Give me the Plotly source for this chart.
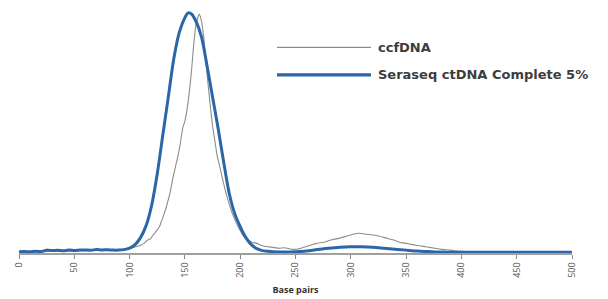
import plotly.graph_objects as go

# Fragment size (bp) and normalised intensity
blue_bp = [0, 5, 10, 15, 20, 25, 30, 35, 40, 45, 50, 55, 60, 65, 70, 75, 80, 85, 90, 95,
           100, 105, 110, 115, 120, 125, 130, 135, 140, 145, 150, 153, 156, 160, 165, 170,
           175, 180, 185, 190, 195, 200, 205, 210, 215, 220, 225, 230, 240, 250, 260, 270,
           280, 290, 300, 310, 320, 330, 340, 350, 360, 370, 380, 400, 420, 450, 480, 500]
blue_val = [0.005, 0.006, 0.005, 0.007, 0.006, 0.012, 0.010, 0.011, 0.009, 0.012, 0.010,
            0.012, 0.013, 0.011, 0.015, 0.013, 0.014, 0.012, 0.012, 0.014,
            0.020, 0.035, 0.065, 0.115, 0.200, 0.330, 0.490, 0.650, 0.810, 0.920, 0.980,
            1.000, 0.995, 0.965, 0.900, 0.780, 0.650, 0.520, 0.380, 0.250, 0.165, 0.110,
            0.065, 0.035, 0.018, 0.010, 0.007, 0.005, 0.004, 0.005, 0.008, 0.015,
            0.020, 0.024, 0.026, 0.026, 0.024, 0.020, 0.016, 0.012, 0.008, 0.006, 0.004,
            0.003, 0.003, 0.003, 0.003, 0.003]

gray_bp = [0, 10, 20, 30, 40, 50, 60, 70, 80, 90, 95, 100, 105, 110, 113, 116, 119, 121,
           124, 127, 129, 131, 134, 137, 139, 142, 144, 146, 148, 150, 152, 154, 156, 158,
           160, 163, 165, 167, 169, 171, 173, 175, 177, 179, 182, 186, 189, 192, 195, 198,
           201, 204, 207, 210, 215, 220, 227, 235, 240, 248,
           255, 262, 269, 276, 283, 290, 296, 302, 308, 314, 320, 326, 332, 338, 344, 350,
           356, 362, 369, 376, 383, 390, 396, 405, 420, 440, 460, 480, 500]
gray_val = [0.004, 0.006, 0.005, 0.008, 0.007, 0.009, 0.010, 0.012, 0.011, 0.014, 0.016,
            0.020, 0.025, 0.032, 0.040, 0.053, 0.060, 0.074, 0.090, 0.110, 0.135, 0.160,
            0.205, 0.260, 0.310, 0.370, 0.410, 0.460, 0.520, 0.550, 0.600, 0.670, 0.760,
            0.870, 0.950, 0.995, 0.965, 0.900, 0.800, 0.700, 0.610, 0.530, 0.470, 0.410,
            0.350, 0.270, 0.220, 0.176, 0.140, 0.110, 0.085, 0.065, 0.055, 0.045,
            0.040, 0.030, 0.025, 0.020, 0.022, 0.015, 0.020, 0.030, 0.040, 0.045, 0.055,
            0.062, 0.070, 0.078, 0.082, 0.078, 0.075, 0.070, 0.062, 0.055, 0.045, 0.040,
            0.035, 0.030, 0.025, 0.020, 0.015, 0.012, 0.008, 0.006, 0.004, 0.003, 0.003,
            0.002, 0.002]

tick_vals = [0, 50, 100, 150, 200, 250, 300, 350, 400, 450, 500]
tick_text = ["0", "50", "100", "150", "200", "250", "300", "350", "400", "450", "500"]
series_names = ["ccfDNA", "Seraseq ctDNA Complete 5%"]

GRAY = "#8c8c8c"
BLUE = "#2a66a8"

fig = go.Figure()
fig.add_trace(go.Scatter(x=gray_bp, y=gray_val, mode="lines", name=series_names[0],
                         line=dict(color=GRAY, width=1.1, shape="spline", smoothing=0.5),
                         showlegend=False))
fig.add_trace(go.Scatter(x=blue_bp, y=blue_val, mode="lines", name=series_names[1],
                         line=dict(color=BLUE, width=3, shape="spline", smoothing=0.8),
                         showlegend=False))

# manual legend (long swatches as in the reference)
legend_rows = [(series_names[0], GRAY, 1.3, 0.843), (series_names[1], BLUE, 3.2, 0.730)]
for name, col, w, yy in legend_rows:
    fig.add_shape(type="line", xref="paper", yref="paper", x0=0.4665, x1=0.6365,
                  y0=yy, y1=yy, line=dict(color=col, width=w))
    fig.add_annotation(text=name, xref="paper", yref="paper", x=0.645, y=yy,
                       xanchor="left", yanchor="middle", showarrow=False,
                       font=dict(family="DejaVu Sans", size=13, color="#3d3d3d", weight=700))

fig.update_layout(
    width=600, height=291,
    margin=dict(l=11, r=36, t=1, b=46),
    paper_bgcolor="white", plot_bgcolor="white",
    xaxis=dict(range=[0, 500], tickvals=tick_vals, ticktext=tick_text, tickangle=-90,
               showline=True, linecolor="#a0a0a0", linewidth=1.5, showgrid=False,
               zeroline=False, ticks="outside", ticklen=4, tickcolor="#888",
               tickfont=dict(family="Open Sans", size=9, color="#555"),
               title=dict(text="Base pairs", standoff=10,
                          font=dict(family="Open Sans", size=9, color="#333", weight=700))),
    yaxis=dict(range=[0, 1.016], visible=False),
)

fig.write_html("out.html")
